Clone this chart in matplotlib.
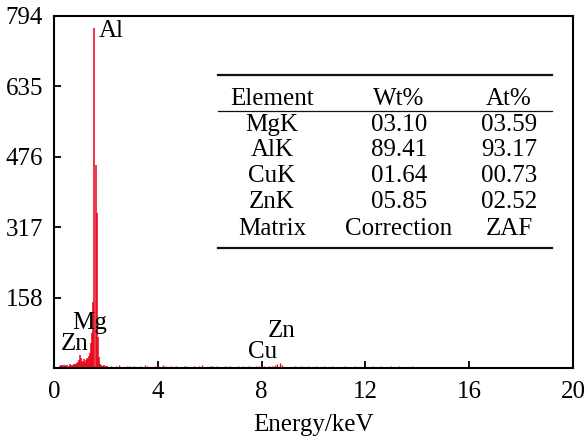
import numpy as np
import matplotlib.pyplot as plt

plt.rcParams['font.family'] = ['Liberation Serif', 'DejaVu Serif']

# low-energy region, channels every 0.04 keV starting at 0.24 keV
peak_start, peak_step = 0.24, 0.04
peak_counts = [5, 6, 4, 7, 5, 6, 4, 7, 5, 8,
               6, 5, 7, 9, 8, 10, 12, 14, 18, 30,
               22, 14, 16, 20, 12, 18, 22, 20, 26, 34,
               56, 79, 150, 767, 458, 350, 70, 25, 10, 6,
               5, 4, 6, 3, 5, 4]

# rest of the spectrum, channels every 0.1 keV starting at 2.1 keV
base_start, base_step = 2.1, 0.1
base_counts = [3, 5, 2, 4, 6, 3, 2, 5, 4, 3,
               4, 2, 5, 3, 6, 4, 2, 3, 5, 4,
               3, 6, 4, 2, 5, 3, 4, 2, 3, 5,
               4, 3, 2, 5, 3, 4, 6, 2, 3, 4,
               5, 2, 4, 3, 2, 5, 3, 4, 2, 3,
               4, 3, 5, 2, 4, 3, 2, 4, 5, 5,
               4, 3, 5, 4, 6, 9, 12, 6, 3, 2,
               3, 2, 4, 3, 5, 2, 3, 4, 2, 3,
               4, 2, 3, 5, 2, 3, 4, 2, 3, 2,
               3, 4, 2, 3, 2, 4, 3, 2, 3, 4,
               2, 3, 4, 2, 3, 5, 2, 3, 2, 4,
               3, 2, 4, 3, 2, 3, 2, 4, 3, 2,
               2, 3, 2, 0, 0, 0, 2, 3, 2, 3,
               2, 3, 2, 3, 2, 0, 0, 0, 2, 3,
               2, 3, 2, 2, 3, 2, 0, 0, 2, 3,
               2, 2, 3, 2, 2, 3, 2, 2, 3, 2,
               2, 3, 2, 2, 3, 2, 2, 3, 2, 2,
               2, 2]

# peak labels: (text, energy, counts)
peak_labels = [('Al', 1.74, 760), ('Mg', 1.38, 101), ('Zn', 0.79, 54),
               ('Cu', 8.04, 36), ('Zn', 8.77, 83)]

x_ticks = [0, 4, 8, 12, 16, 20]
y_ticks = [158, 317, 476, 635, 794]

# composition table
table_header = ['Element', 'Wt%', 'At%']
table_rows = [['MgK', '03.10', '03.59'],
              ['AlK', '89.41', '93.17'],
              ['CuK', '01.64', '00.73'],
              ['ZnK', '05.85', '02.52'],
              ['Matrix', 'Correction', 'ZAF']]

red = '#e80016'
fs = 18
W, H = 587, 438
fig = plt.figure(figsize=(W / 100, H / 100), dpi=100)
ax = fig.add_axes([54 / W, 1 - 368 / H, (573 - 54) / W, (368 - 16) / H])

pe = peak_start + peak_step * np.arange(len(peak_counts))
be = base_start + base_step * np.arange(len(base_counts))
ax.vlines(pe, 0, peak_counts, color=red, lw=1.1)
ax.vlines(be, 0, base_counts, color=red, lw=0.9)

for txt, ex, ey in peak_labels:
    ax.text(ex, ey, txt, fontsize=fs, ha='left' if txt == 'Al' else 'center',
            va='center')

ax.set_xlim(0, 20)
ax.set_ylim(0, 794)
ax.set_xticks(x_ticks)
ax.set_yticks(y_ticks)
ax.tick_params(direction='in', length=5, width=1.3, labelsize=fs,
               top=False, right=False)
ax.tick_params(axis='x', pad=9)
ax.tick_params(axis='y', pad=8)
for s in ax.spines.values():
    s.set_linewidth(1.5)
ax.set_xlabel('Energy/keV', fontsize=fs, labelpad=8)

# table drawn in pixel positions of the figure
def fx(px):
    return px / W

def fy(py):
    return 1 - py / H

col_x = [272, 399, 509]
row_y = [99, 125, 150, 176, 202, 229]
for cx, t in zip(col_x, table_header):
    fig.text(fx(cx), fy(row_y[0]), t, fontsize=fs, ha='center', va='center')
for ry, row in zip(row_y[1:], table_rows):
    for cx, t in zip(col_x, row):
        fig.text(fx(cx), fy(ry), t, fontsize=fs, ha='center', va='center')

fig.add_artist(plt.Line2D([fx(218), fx(552)], [fy(75), fy(75)], color='#111111', lw=1.6))
fig.add_artist(plt.Line2D([fx(218), fx(552)], [fy(111), fy(111)], color='#111111', lw=0.9))
fig.add_artist(plt.Line2D([fx(218), fx(552)], [fy(248), fy(248)], color='#111111', lw=1.6))

fig.savefig('out.png', dpi=100)
